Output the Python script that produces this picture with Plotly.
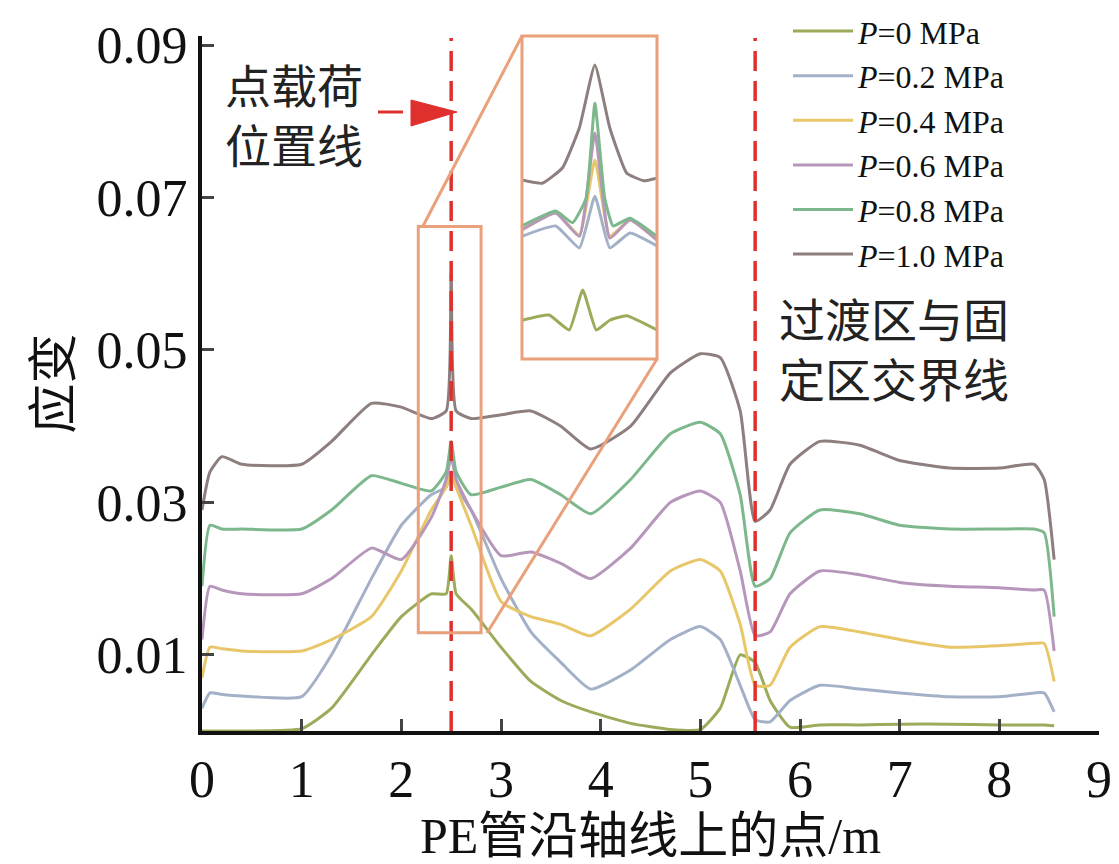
import plotly.graph_objects as go

# main curves
x = [0, 0.08, 0.2, 0.4, 1.0, 1.3, 1.7, 2.0, 2.3, 2.45, 2.5, 2.55, 2.7, 3.0, 3.3, 3.6, 3.9,
     4.3, 4.7, 5.0, 5.2, 5.4, 5.55, 5.7, 5.9, 6.2, 6.6, 7.0, 7.5, 8.0, 8.35, 8.45, 8.55]
p00 = [0, 0, 0, 0, 0.0003, 0.003, 0.010, 0.015, 0.018, 0.018, 0.023, 0.018, 0.016, 0.011, 0.0065, 0.004, 0.0025,
       0.001, 0.0002, 0.0002, 0.003, 0.010, 0.009, 0.004, 0.0005, 0.0008, 0.0008, 0.0009, 0.0009, 0.0008, 0.0008, 0.0008, 0.0007]
p02 = [0.003, 0.005, 0.0048, 0.0046, 0.0045, 0.010, 0.020, 0.027, 0.031, 0.032, 0.034, 0.032, 0.029, 0.020, 0.013, 0.009, 0.0055,
       0.008, 0.012, 0.0137, 0.012, 0.006, 0.0015, 0.0012, 0.004, 0.006, 0.0055, 0.005, 0.0045, 0.0045, 0.005, 0.005, 0.0025]
p04 = [0.007, 0.011, 0.0108, 0.0105, 0.0105, 0.012, 0.015, 0.021, 0.029, 0.032, 0.034, 0.032, 0.027, 0.017, 0.015, 0.014, 0.0125,
       0.016, 0.021, 0.0225, 0.021, 0.014, 0.006, 0.006, 0.011, 0.0137, 0.013, 0.012, 0.011, 0.0112, 0.0115, 0.0115, 0.0065]
p06 = [0.012, 0.019, 0.0185, 0.018, 0.018, 0.020, 0.024, 0.0225, 0.028, 0.033, 0.036, 0.033, 0.029, 0.023, 0.0235, 0.022, 0.020,
       0.024, 0.030, 0.0315, 0.030, 0.021, 0.0125, 0.013, 0.018, 0.021, 0.0205, 0.0195, 0.019, 0.0188, 0.0185, 0.0185, 0.0105]
p08 = [0.019, 0.027, 0.0265, 0.0265, 0.0265, 0.029, 0.0335, 0.0325, 0.0315, 0.034, 0.038, 0.034, 0.031, 0.032, 0.033, 0.031, 0.0285,
       0.033, 0.039, 0.0405, 0.039, 0.031, 0.019, 0.020, 0.026, 0.029, 0.0285, 0.027, 0.0265, 0.0265, 0.0265, 0.026, 0.015]
p10 = [0.029, 0.034, 0.036, 0.035, 0.035, 0.038, 0.043, 0.0425, 0.041, 0.042, 0.060, 0.042, 0.041, 0.0415, 0.042, 0.040, 0.037,
       0.040, 0.047, 0.0495, 0.049, 0.042, 0.0275, 0.029, 0.035, 0.038, 0.0375, 0.0355, 0.0345, 0.0345, 0.035, 0.033, 0.0225]

# inset (zoom around load point)
in_x00 = [2.30, 2.38, 2.44, 2.48, 2.52, 2.56, 2.61, 2.70]
in_y00 = [0.0210, 0.0218, 0.0195, 0.0257, 0.0195, 0.0210, 0.0217, 0.0195]
in_x = [2.30, 2.40, 2.47, 2.516, 2.56, 2.62, 2.70]
in_y02 = [0.0340, 0.0356, 0.0322, 0.0402, 0.0322, 0.0345, 0.0325]
in_y04 = [0.0350, 0.0376, 0.0342, 0.0458, 0.0340, 0.0365, 0.0334]
in_y06 = [0.0350, 0.0376, 0.0340, 0.0500, 0.0337, 0.0365, 0.0334]
in_x08 = [2.30, 2.40, 2.45, 2.49, 2.516, 2.545, 2.57, 2.62, 2.70]
in_y08 = [0.0356, 0.0379, 0.0361, 0.0399, 0.0546, 0.0399, 0.0356, 0.0368, 0.0340]
in_x10 = [2.30, 2.36, 2.42, 2.47, 2.516, 2.56, 2.61, 2.66, 2.70]
in_y10 = [0.0427, 0.0422, 0.0446, 0.0508, 0.0605, 0.0508, 0.0438, 0.0426, 0.0430]

names = ["<i>P</i>=0 MPa", "<i>P</i>=0.2 MPa", "<i>P</i>=0.4 MPa",
         "<i>P</i>=0.6 MPa", "<i>P</i>=0.8 MPa", "<i>P</i>=1.0 MPa"]
colors = ["#9aab5a", "#a3b1c8", "#e8c66a", "#b697bb", "#7db78c", "#8e7e7e"]
main_y = [p00, p02, p04, p06, p08, p10]
inset = [(in_x00, in_y00), (in_x, in_y02), (in_x, in_y04), (in_x, in_y06), (in_x08, in_y08), (in_x10, in_y10)]

FONT = "Liberation Serif, Noto Sans CJK SC"
ORANGE = "#e9a07b"
RED = "#e0302e"

L, R = 194, 28
W = 1119 - L - R

fig = go.Figure()
for n, c, y in zip(names, colors, main_y):
    fig.add_trace(go.Scatter(x=x, y=y, mode="lines", name=n,
                             line=dict(color=c, width=3, shape="spline", smoothing=0.5)))
for c, (xi, yi) in zip(colors, inset):
    fig.add_trace(go.Scatter(x=xi, y=yi, mode="lines", showlegend=False,
                             xaxis="x2", yaxis="y2",
                             line=dict(color=c, width=3, shape="spline", smoothing=0.4)))

def px(p):
    return (p - L) / W

def py(p):
    return (723 - p) / 720

shapes = [
    dict(type="line", xref="x", yref="paper", x0=2.5, x1=2.5, y0=0, y1=py(30),
         line=dict(color=RED, width=3.5, dash="20px,10px")),
    dict(type="line", xref="x", yref="paper", x0=5.55, x1=5.55, y0=0, y1=py(30),
         line=dict(color=RED, width=3.5, dash="20px,10px")),
    dict(type="rect", xref="x", yref="y", x0=2.17, x1=2.80, y0=0.0129, y1=0.0662,
         line=dict(color=ORANGE, width=3)),
    dict(type="line", xref="paper", yref="paper", x0=px(415), y0=py(218), x1=px(514), y1=py(28),
         line=dict(color=ORANGE, width=3)),
    dict(type="line", xref="paper", yref="paper", x0=px(479), y0=py(625), x1=px(649), y1=py(351),
         line=dict(color=ORANGE, width=3)),
    dict(type="rect", xref="paper", yref="paper", x0=px(514), x1=px(649), y0=py(351), y1=py(28),
         line=dict(color=ORANGE, width=3)),
    dict(type="line", xref="paper", yref="paper", x0=px(370), x1=px(395), y0=py(104), y1=py(104),
         line=dict(color=RED, width=3)),
    dict(type="path", xref="paper", yref="paper",
         path=f"M {px(403)},{py(92)} L {px(449)},{py(104)} L {px(403)},{py(118)} Z",
         fillcolor=RED, line=dict(color=RED, width=1)),
]

annotations = [
    dict(text="点载荷<br>位置线", x=px(215), y=py(52), xref="paper", yref="paper",
         xanchor="left", yanchor="top", align="left", showarrow=False,
         font=dict(size=46, color="#222", family=FONT)),
    dict(text="过渡区与固<br>定区交界线", x=px(769), y=py(286), xref="paper", yref="paper",
         xanchor="left", yanchor="top", align="left", showarrow=False,
         font=dict(size=46, color="#222", family=FONT)),
]

fig.update_layout(
    width=1119, height=864,
    margin=dict(l=L, r=R, t=3, b=141, autoexpand=False),
    plot_bgcolor="white", paper_bgcolor="white",
    font=dict(family=FONT, color="#111", size=50),
    shapes=shapes, annotations=annotations,
    xaxis=dict(range=[0, 9], tickvals=list(range(10)), ticks="inside", ticklen=12, tickwidth=3,
               showline=True, linewidth=4, linecolor="#111", showgrid=False, zeroline=False,
               title=dict(text="PE管沿轴线上的点/m", font=dict(size=50), standoff=8),
               tickfont=dict(size=52)),
    yaxis=dict(domain=[0, py(28)], range=[0, 0.0912], tickvals=[0.01, 0.03, 0.05, 0.07, 0.09],
               tickformat=".2f", ticks="inside", ticklen=12, tickwidth=3,
               showline=True, linewidth=4, linecolor="#111", showgrid=False, zeroline=False,
               title=dict(text="应变", font=dict(size=50), standoff=10),
               tickfont=dict(size=52)),
    xaxis2=dict(domain=[px(514), px(649)], anchor="y2", range=[2.30, 2.70], visible=False),
    yaxis2=dict(domain=[py(351), py(28)], anchor="x2", range=[0.015, 0.065], visible=False),
    legend=dict(x=px(780), y=1.01, xanchor="left", yanchor="top", bgcolor="rgba(0,0,0,0)",
                font=dict(size=32), tracegroupgap=0, itemwidth=60),
)

fig.write_html("out.html")
